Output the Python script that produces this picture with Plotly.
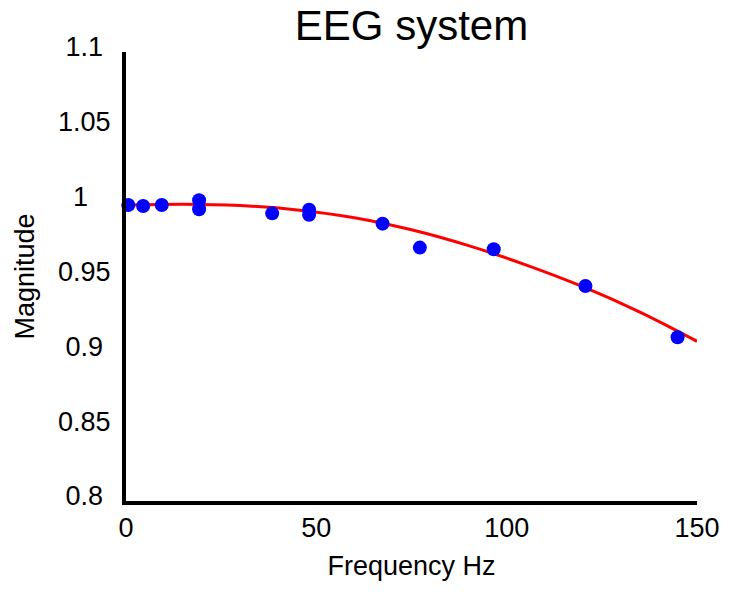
import plotly.graph_objects as go

# Measured data points
freq_hz = [0.6, 4.5, 9.4, 19.2, 19.2, 38.4, 48.1, 48.1, 67.4, 77.2, 96.6, 120.7, 144.9]
magnitude = [0.9978, 0.9971, 0.9978, 1.0009, 0.9949, 0.9922, 0.9946, 0.9913,
             0.9853, 0.9693, 0.9682, 0.9437, 0.9094]

# Fitted curve
fit_freq = [1, 15, 30, 45, 60, 75, 90, 105, 120, 135, 150]
fit_mag = [0.9977, 0.9983, 0.9974, 0.9945, 0.9893, 0.9812, 0.9706, 0.9578, 0.9432, 0.9262, 0.9067]

# Tick labels
x_tickvals = [0, 50, 100, 150]
x_ticktext = ["0", "50", "100", "150"]
y_tickvals = [1.1, 1.05, 1.0, 0.95, 0.9, 0.85, 0.8]
y_ticktext = ["1.1\u2008", "1.05", "1\u2007\u2008", "0.95", "0.9\u2008", "0.85", "0.8\u2008"]

FONT = "Arial, 'Liberation Sans', sans-serif"

fig = go.Figure()
fig.add_trace(go.Scatter(
    x=fit_freq, y=fit_mag, mode="lines",
    line=dict(color="#FF0000", width=3, shape="spline", smoothing=1.0),
    showlegend=False, hoverinfo="skip", cliponaxis=False,
))
fig.add_trace(go.Scatter(
    x=freq_hz, y=magnitude, mode="markers",
    marker=dict(color="#0000FF", size=14, line=dict(width=0)),
    showlegend=False, cliponaxis=False,
))

# page body adds an 8px offset, so the figure is sized to the remaining area
fig.update_layout(
    width=725, height=584, autosize=False,
    margin=dict(l=118, r=36, t=44, b=91),
    paper_bgcolor="white", plot_bgcolor="white",
    font=dict(family=FONT, color="black", size=28),
    title=dict(text="EEG system", x=0.5, xref="paper", xanchor="center",
               y=1, yref="container", yanchor="top", pad=dict(t=3),
               font=dict(family=FONT, size=42, color="black")),
    xaxis=dict(range=[0, 150], tickvals=x_tickvals, ticktext=x_ticktext,
               showgrid=False, zeroline=False, showline=True, linecolor="black",
               linewidth=4, ticks="", ticklabelstandoff=0,
               tickfont=dict(family=FONT, size=27, color="black"),
               title=dict(text="Frequency Hz", standoff=15,
                          font=dict(family=FONT, size=27, color="black"))),
    yaxis=dict(range=[0.8, 1.1], tickvals=y_tickvals, ticktext=y_ticktext,
               showgrid=False, zeroline=False, showline=True, linecolor="black",
               linewidth=4, ticks="", ticklabelstandoff=6, ticklabelshift=-5,
               tickfont=dict(family=FONT, size=27, color="black"),
               title=dict(text="Magnitude", standoff=17,
                          font=dict(family=FONT, size=27, color="black"))),
)

fig.write_html("out.html")
